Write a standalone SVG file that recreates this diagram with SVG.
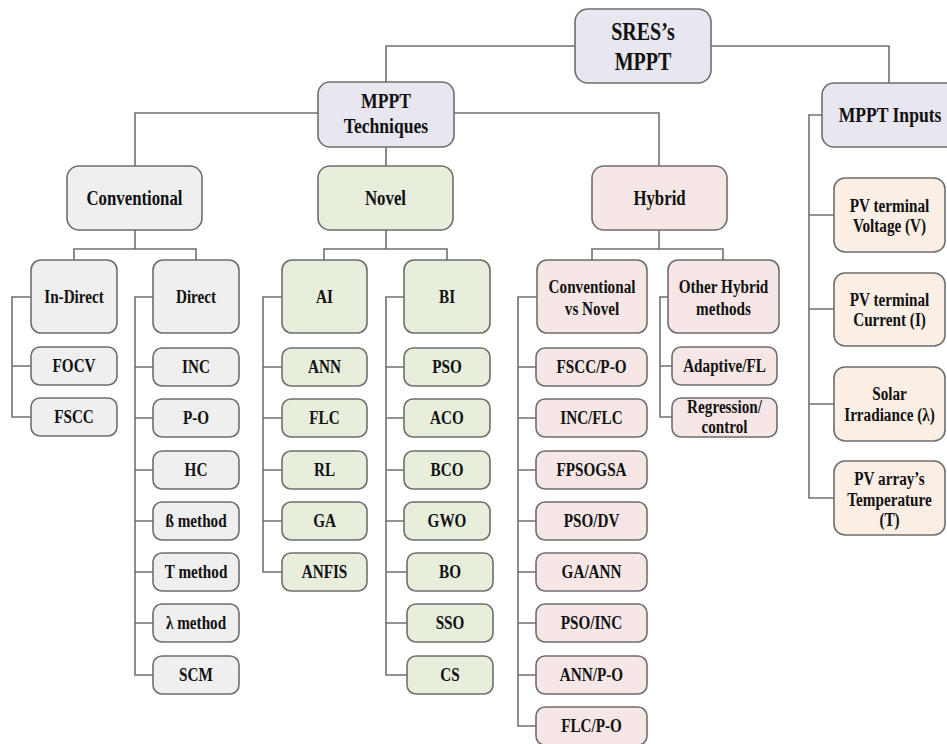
<svg xmlns="http://www.w3.org/2000/svg" width="947" height="744" viewBox="0 0 947 744">
<style>
rect{stroke:#6e6e6e;stroke-width:1.6}
.top{fill:#e8e6ee}
.gry{fill:#efefef}
.grn{fill:#e7eedc}
.pnk{fill:#f6e7e6}
.pch{fill:#fbeee4}
text{font-family:'Liberation Serif','DejaVu Serif',serif;font-weight:bold;fill:#111;text-anchor:middle;transform-box:fill-box;transform-origin:center;transform:scaleX(0.8)}
.f25{font-size:25px}
.f22{font-size:22px}
.f21{font-size:21px}
.f19{font-size:19px}
#connectors path{fill:none;stroke:#707070;stroke-width:1.6}
</style>
<rect width="947" height="744" fill="#ffffff" style="stroke:none"/>
<g id="connectors">
<path d="M386,82 V46 H575 M711,46 H889 V83"/>
<path d="M318,113 H135 V166 M386,147 V166 M454,113 H659 V166"/>
<path d="M822,115 H809 V498 H834 M809,215 H834 M809,309 H834 M809,404 H834"/>
<path d="M135,230 V249 M74,260 V249 H196 V260"/>
<path d="M31,297 H12 V417 H31 M12,366 H31"/>
<path d="M153,297 H135 V675 H153 M135,367 H153 M135,418 H153 M135,470 H153 M135,521 H153 M135,572 H153 M135,623 H153"/>
<path d="M386,230 V249 M324,260 V249 H447 V260"/>
<path d="M282,297 H263 V572 H282 M263,367 H282 M263,418 H282 M263,470 H282 M263,521 H282"/>
<path d="M404,297 H386 V675 H407 M386,367 H404 M386,418 H404 M386,470 H404 M386,521 H404 M386,572 H407 M386,623 H407"/>
<path d="M659,230 V249 M592,260 V249 H723 V260"/>
<path d="M537,297 H518 V726 H536 M518,367 H536 M518,418 H536 M518,470 H536 M518,521 H536 M518,572 H536 M518,623 H536 M518,675 H536"/>
<path d="M668,297 H660 V417 H672 M660,366 H672"/>
</g>
<g id="sres"><rect class="top" x="575" y="9" width="136" height="74" rx="13"/><text class="f25" x="643"><tspan x="643" y="40">SRES’s</tspan><tspan x="643" y="70">MPPT</tspan></text></g>
<g id="techniques"><rect class="top" x="318" y="82" width="136" height="65" rx="12"/><text class="f22" x="386"><tspan x="386" y="108">MPPT</tspan><tspan x="386" y="133">Techniques</tspan></text></g>
<g id="inputs"><rect class="top" x="822" y="83" width="136" height="64" rx="12"/><text class="f22" x="890" y="122">MPPT Inputs</text></g>
<g id="conventional"><rect class="gry" x="67" y="166" width="135" height="64" rx="12"/><text class="f21" x="134.5" y="205">Conventional</text></g>
<g id="novel"><rect class="grn" x="318" y="166" width="135" height="64" rx="12"/><text class="f21" x="385.5" y="205">Novel</text></g>
<g id="hybrid"><rect class="pnk" x="592" y="166" width="135" height="64" rx="12"/><text class="f21" x="659.5" y="205">Hybrid</text></g>
<g id="indirect"><rect class="gry" x="31" y="260" width="86" height="73" rx="10"/><text class="f19" x="74" y="303">In-Direct</text></g>
<g id="direct"><rect class="gry" x="153" y="260" width="86" height="73" rx="10"/><text class="f19" x="196" y="303">Direct</text></g>
<g id="focv"><rect class="gry" x="31" y="347" width="86" height="38" rx="9"/><text class="f19" x="74" y="372.5">FOCV</text></g>
<g id="fscc"><rect class="gry" x="31" y="398" width="86" height="38" rx="9"/><text class="f19" x="74" y="423.5">FSCC</text></g>
<g id="inc"><rect class="gry" x="153" y="348" width="86" height="38" rx="9"/><text class="f19" x="196" y="373.5">INC</text></g>
<g id="po"><rect class="gry" x="153" y="399" width="86" height="38" rx="9"/><text class="f19" x="196" y="424.5">P-O</text></g>
<g id="hc"><rect class="gry" x="153" y="451" width="86" height="38" rx="9"/><text class="f19" x="196" y="476.5">HC</text></g>
<g id="beta"><rect class="gry" x="153" y="502" width="86" height="38" rx="9"/><text class="f19" x="196" y="527.5">ß method</text></g>
<g id="tmethod"><rect class="gry" x="153" y="553" width="86" height="38" rx="9"/><text class="f19" x="196" y="578.5">T method</text></g>
<g id="lambda"><rect class="gry" x="153" y="604" width="86" height="38" rx="9"/><text class="f19" x="196" y="629.5">λ method</text></g>
<g id="scm"><rect class="gry" x="153" y="656" width="86" height="38" rx="9"/><text class="f19" x="196" y="681.5">SCM</text></g>
<g id="ai"><rect class="grn" x="282" y="260" width="85" height="73" rx="10"/><text class="f19" x="324.5" y="303">AI</text></g>
<g id="bi"><rect class="grn" x="404" y="260" width="86" height="73" rx="10"/><text class="f19" x="447" y="303">BI</text></g>
<g id="ann"><rect class="grn" x="282" y="348" width="85" height="38" rx="9"/><text class="f19" x="324.5" y="373.5">ANN</text></g>
<g id="flc"><rect class="grn" x="282" y="399" width="85" height="38" rx="9"/><text class="f19" x="324.5" y="424.5">FLC</text></g>
<g id="rl"><rect class="grn" x="282" y="451" width="85" height="38" rx="9"/><text class="f19" x="324.5" y="476.5">RL</text></g>
<g id="ga"><rect class="grn" x="282" y="502" width="85" height="38" rx="9"/><text class="f19" x="324.5" y="527.5">GA</text></g>
<g id="anfis"><rect class="grn" x="282" y="553" width="85" height="38" rx="9"/><text class="f19" x="324.5" y="578.5">ANFIS</text></g>
<g id="pso"><rect class="grn" x="404" y="348" width="86" height="38" rx="9"/><text class="f19" x="447" y="373.5">PSO</text></g>
<g id="aco"><rect class="grn" x="404" y="399" width="86" height="38" rx="9"/><text class="f19" x="447" y="424.5">ACO</text></g>
<g id="bco"><rect class="grn" x="404" y="451" width="86" height="38" rx="9"/><text class="f19" x="447" y="476.5">BCO</text></g>
<g id="gwo"><rect class="grn" x="404" y="502" width="86" height="38" rx="9"/><text class="f19" x="447" y="527.5">GWO</text></g>
<g id="bo"><rect class="grn" x="407" y="553" width="86" height="38" rx="9"/><text class="f19" x="450" y="578.5">BO</text></g>
<g id="sso"><rect class="grn" x="407" y="604" width="86" height="38" rx="9"/><text class="f19" x="450" y="629.5">SSO</text></g>
<g id="cs"><rect class="grn" x="407" y="656" width="86" height="38" rx="9"/><text class="f19" x="450" y="681.5">CS</text></g>
<g id="cvn"><rect class="pnk" x="537" y="260" width="110" height="73" rx="10"/><text class="f19" x="592"><tspan x="592" y="293">Conventional</tspan><tspan x="592" y="315">vs Novel</tspan></text></g>
<g id="other"><rect class="pnk" x="668" y="260" width="111" height="73" rx="10"/><text class="f19" x="723.5"><tspan x="723.5" y="293">Other Hybrid</tspan><tspan x="723.5" y="315">methods</tspan></text></g>
<g id="fsccpo"><rect class="pnk" x="536" y="348" width="111" height="38" rx="9"/><text class="f19" x="591.5" y="373.5">FSCC/P-O</text></g>
<g id="incflc"><rect class="pnk" x="536" y="399" width="111" height="38" rx="9"/><text class="f19" x="591.5" y="424.5">INC/FLC</text></g>
<g id="fpsogsa"><rect class="pnk" x="536" y="451" width="111" height="38" rx="9"/><text class="f19" x="591.5" y="476.5">FPSOGSA</text></g>
<g id="psodv"><rect class="pnk" x="536" y="502" width="111" height="38" rx="9"/><text class="f19" x="591.5" y="527.5">PSO/DV</text></g>
<g id="gaann"><rect class="pnk" x="536" y="553" width="111" height="38" rx="9"/><text class="f19" x="591.5" y="578.5">GA/ANN</text></g>
<g id="psoinc"><rect class="pnk" x="536" y="604" width="111" height="38" rx="9"/><text class="f19" x="591.5" y="629.5">PSO/INC</text></g>
<g id="annpo"><rect class="pnk" x="536" y="656" width="111" height="38" rx="9"/><text class="f19" x="591.5" y="681.5">ANN/P-O</text></g>
<g id="flcpo"><rect class="pnk" x="536" y="707" width="111" height="38" rx="9"/><text class="f19" x="591.5" y="732.5">FLC/P-O</text></g>
<g id="adaptive"><rect class="pnk" x="672" y="347" width="105" height="38" rx="9"/><text class="f19" x="724.5" y="372.5">Adaptive/FL</text></g>
<g id="regression"><rect class="pnk" x="672" y="398" width="105" height="39" rx="9"/><text class="f19" x="724.5"><tspan x="724.5" y="413">Regression/</tspan><tspan x="724.5" y="433">control</tspan></text></g>
<g id="voltage"><rect class="pch" x="834" y="178" width="111" height="74" rx="11"/><text class="f19" x="889.5"><tspan x="889.5" y="212">PV terminal</tspan><tspan x="889.5" y="232">Voltage (V)</tspan></text></g>
<g id="current"><rect class="pch" x="834" y="273" width="111" height="73" rx="11"/><text class="f19" x="889.5"><tspan x="889.5" y="306">PV terminal</tspan><tspan x="889.5" y="326">Current (I)</tspan></text></g>
<g id="irradiance"><rect class="pch" x="834" y="367" width="111" height="74" rx="11"/><text class="f19" x="889.5"><tspan x="889.5" y="400">Solar</tspan><tspan x="889.5" y="421">Irradiance (λ)</tspan></text></g>
<g id="temperature"><rect class="pch" x="834" y="461" width="111" height="74" rx="11"/><text class="f19" x="889.5"><tspan x="889.5" y="485">PV array’s</tspan><tspan x="889.5" y="506">Temperature</tspan><tspan x="889.5" y="526">(T)</tspan></text></g>
</svg>
